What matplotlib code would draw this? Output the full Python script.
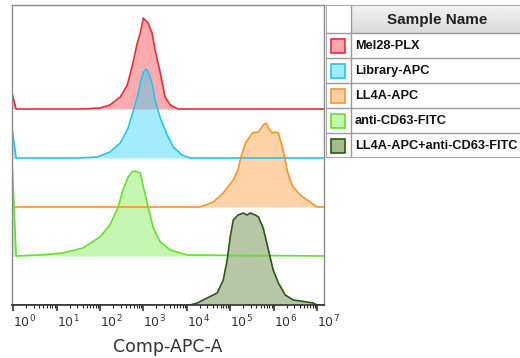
import numpy as np
import matplotlib
matplotlib.use('Agg')
import matplotlib.pyplot as plt
from matplotlib.patches import Rectangle
from matplotlib.ticker import LogLocator, FixedLocator, NullFormatter

plt.rcParams['mathtext.default'] = 'regular'

# sample names, top to bottom
samples = ['Mel28-PLX', 'Library-APC', 'LL4A-APC', 'anti-CD63-FITC',
           'LL4A-APC+anti-CD63-FITC']
line_colors = ['#ec2a36', '#1ec6f2', '#f7942a', '#62e02c', '#2c5716']
fill_colors = ['#ff2534', '#11cff7', '#ff891b', '#69eb32', '#3f6a18']
swatch_fill = ['#f9a6ac', '#a0ecfc', '#fdd0a4', '#c3f7ad', '#a6bb92']

# histograms: log10(Comp-APC-A) and mode-normalised height (px units of the plot)
red_lx = [1.61, 2.0, 2.23, 2.47, 2.63, 2.76, 2.86, 2.93, 3.0, 3.04, 3.11, 3.2,
          3.27, 3.39, 3.5, 3.62, 3.8]
red_h = [0, 1, 4, 12, 24, 46, 66, 76, 91, 89, 86, 76, 59, 36, 12, 4, 0]

blue_lx = [1.54, 1.94, 2.23, 2.47, 2.65, 2.76, 2.86, 2.93, 3.0, 3.06, 3.11, 3.2,
           3.27, 3.39, 3.55, 3.69, 3.89, 4.08]
blue_h = [0, 1, 6, 15, 30, 46, 61, 75, 86, 89, 86, 75, 58, 40, 23, 11, 3, 0]

orange_lx = [4.31, 4.61, 4.84, 5.07, 5.18, 5.23, 5.35, 5.51, 5.65, 5.76, 5.83,
             5.88, 5.97, 6.04, 6.11, 6.2, 6.27, 6.31, 6.38, 6.45, 6.61, 6.84, 7.0]
orange_h = [0, 5, 14, 27, 37, 47, 64, 74, 75, 82, 84, 79, 74, 75, 74, 60, 47,
            37, 27, 20, 12, 5, 0]

green_lx = [0.62, 1.15, 1.61, 2.0, 2.23, 2.42, 2.53, 2.65, 2.74, 2.81, 2.93,
            3.0, 3.11, 3.23, 3.39, 3.62, 4.01]
green_h = [1, 3, 8, 19, 31, 49, 66, 79, 84, 85, 83, 69, 49, 28, 14, 6, 1]

dkgreen_lx = [4.08, 4.24, 4.47, 4.7, 4.84, 4.93, 5.0, 5.07, 5.18, 5.3, 5.39,
              5.46, 5.58, 5.65, 5.76, 5.88, 5.99, 6.11, 6.27, 6.45, 6.77, 6.91, 7.0]
dkgreen_h = [0, 2, 7, 12, 25, 45, 68, 85, 90, 92, 90, 92, 90, 88, 77, 55, 35,
             22, 10, 5, 3, 2, 0]

# pile-up at the low end of the scale
spike_h = [16, 30, 0, 96, 0]

curves = [(red_lx, red_h), (blue_lx, blue_h), (orange_lx, orange_h),
          (green_lx, green_h), (dkgreen_lx, dkgreen_h)]
offsets = [196, 147, 98, 49, 0]

x_lo, x_hi = -0.025, 7.16
decades = list(range(0, 8))

fig = plt.figure(figsize=(5.2, 3.58), dpi=100)
ax = fig.add_axes([12 / 520, 53 / 358, 312 / 520, 300 / 358])

for (lx, h), sp, off, lc, fc in zip(curves, spike_h, offsets, line_colors, fill_colors):
    if sp > 0:
        xs = [x_lo, 0.07] + lx + [x_hi + 0.1]
        ys = [sp, 0] + h + [0]
    else:
        xs = [x_lo] + lx + [x_hi + 0.1]
        ys = [0] + h + [0]
    x = 10 ** np.array(xs)
    y = off + np.array(ys, dtype=float)
    ax.fill_between(x, off, y, color=fc, alpha=0.38, lw=0)
    ax.plot(x, y, color=lc, lw=1.2, solid_joinstyle='round')

ax.set_xscale('log')
ax.set_xlim(10 ** x_lo, 10 ** x_hi)
ax.set_ylim(0, 300)
ax.set_yticks([])

ax.xaxis.set_major_locator(FixedLocator([10.0 ** d for d in decades]))
ax.set_xticklabels([r'$10^{%d}$' % d for d in decades], ha='left')
ax.xaxis.set_minor_locator(LogLocator(base=10, subs=np.arange(2, 10), numticks=20))
ax.xaxis.set_minor_formatter(NullFormatter())
ax.tick_params(axis='x', which='major', length=4, width=1.1, color='#222',
               labelsize=9, labelcolor='#333', pad=2.5)
ax.tick_params(axis='x', which='minor', length=2.2, width=0.8, color='#222')

for s in ['left', 'top', 'right']:
    ax.spines[s].set_color('#8a8a8a')
    ax.spines[s].set_linewidth(1.0)
ax.spines['bottom'].set_color('#333')
ax.spines['bottom'].set_linewidth(1.2)

ax.set_xlabel('Comp-APC-A', fontsize=12.5, color='#333', labelpad=5)

# legend table in pixel coordinates
lax = fig.add_axes([326 / 520, 200 / 358, 196 / 520, 153 / 358])
lax.set_xlim(0, 196)
lax.set_ylim(153, 0)
lax.axis('off')

header_h = 28
row_h = 25
col_w = 25
border = '#9a9a9a'

grad = np.linspace(0.95, 0.86, 30).reshape(-1, 1)
lax.imshow(grad, cmap='gray', vmin=0, vmax=1, aspect='auto',
           extent=(col_w, 196, header_h, 0), zorder=0)
lax.add_patch(Rectangle((0, 0), 196, 153, fill=False, ec=border, lw=1.2, zorder=3))
lax.plot([col_w, col_w], [0, 153], color=border, lw=1.0, zorder=3)
for i in range(len(samples)):
    yline = header_h + i * row_h
    lax.plot([0, 196], [yline, yline], color=border, lw=1.0, zorder=3)

lax.text(111, header_h / 2 + 1, 'Sample Name', ha='center', va='center',
         fontsize=11, fontweight='bold', color='#222',
         family=['Liberation Sans', 'DejaVu Sans'])

for i, name in enumerate(samples):
    yc = header_h + i * row_h + row_h / 2
    lax.add_patch(Rectangle((5, yc - 7), 14, 14, fc=swatch_fill[i],
                            ec=line_colors[i], lw=1.2, zorder=4))
    lax.text(29, yc + 0.5, name, ha='left', va='center', fontsize=9.2,
             fontweight='bold', color='#111',
             family=['Liberation Sans', 'DejaVu Sans'])

fig.savefig('out.png', dpi=100)
